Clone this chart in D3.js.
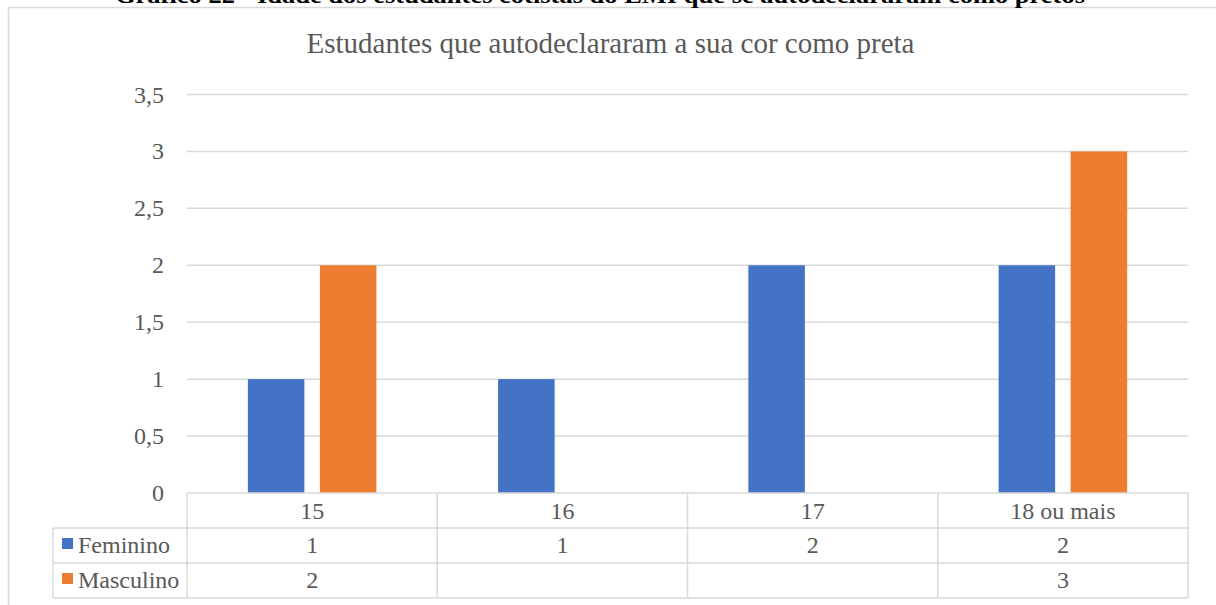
<!DOCTYPE html>
<html><head><meta charset="utf-8">
<script src="https://cdn.jsdelivr.net/npm/d3@7"></script>
<style>
html,body{margin:0;padding:0;background:#fff;}
svg{display:block;}
</style></head>
<body>
<svg id="chart" width="1216" height="605"></svg>
<script>
const caption = "Gráfico 22 - Idade dos estudantes cotistas do EMI que se autodeclararam como pretos";
const title = "Estudantes que autodeclararam a sua cor como preta";
const categories = ["15", "16", "17", "18 ou mais"];
const seriesNames = ["Feminino", "Masculino"];
const feminino = [1, 1, 2, 2];
const masculino = [2, null, null, 3];
const yTicks = [0, 0.5, 1, 1.5, 2, 2.5, 3, 3.5];
const yTickLabels = ["0", "0,5", "1", "1,5", "2", "2,5", "3", "3,5"];
const colors = ["#4472C4", "#ED7D31"];

const series = [feminino, masculino];
const FONT = "'Liberation Serif'";
const svg = d3.select("#chart");
const grid = "#D9D9D9", txt = "#595959";
function T(sel) { return sel.style("font-family", FONT); }

// frame
svg.append("line").attr("x1", 8).attr("x2", 1216).attr("y1", 7.5).attr("y2", 7.5).attr("stroke", grid).attr("stroke-width", 1.5);
svg.append("line").attr("x1", 8.5).attr("x2", 8.5).attr("y1", 7).attr("y2", 605).attr("stroke", grid).attr("stroke-width", 1.5);

// caption (clipped at top, as in the reference)
T(svg.append("text")).attr("x", 115).attr("y", 2.5).attr("font-size", 23).attr("font-weight", "bold")
  .attr("fill", "#000").attr("textLength", 970).attr("lengthAdjust", "spacingAndGlyphs").text(caption);

// title
T(svg.append("text")).attr("x", 610.5).attr("y", 53).attr("text-anchor", "middle").attr("font-size", 29)
  .attr("fill", txt).text(title);

const x0 = d3.scaleBand().domain(categories).range([187, 1188]).padding(0);
const x1 = d3.scaleBand().domain(seriesNames).range([0, x0.bandwidth()]).paddingInner(0.215).paddingOuter(0.845);
const y = d3.scaleLinear().domain([0, 3.5]).range([493, 94.5]);

// gridlines
svg.append("g").selectAll("line").data(yTicks.filter(d => d > 0)).join("line")
  .attr("x1", 187).attr("x2", 1188).attr("y1", d => y(d)).attr("y2", d => y(d))
  .attr("stroke", grid).attr("stroke-width", 1.5);

// y tick labels
T(svg.append("g").selectAll("text").data(yTicks).join("text"))
  .attr("x", 164).attr("y", d => y(d) + 8).attr("text-anchor", "end").attr("font-size", 24).attr("fill", txt)
  .text((d, i) => yTickLabels[i]);

// bars
seriesNames.forEach((s, si) => {
  svg.append("g").selectAll("rect").data(categories.map((c, i) => ({c, v: series[si][i]})).filter(d => d.v != null)).join("rect")
    .attr("x", d => x0(d.c) + x1(s)).attr("width", x1.bandwidth())
    .attr("y", d => y(d.v)).attr("height", d => y(0) - y(d.v)).attr("fill", colors[si]);
});

// data table
const rowTop = [493, 528, 563, 598];
const tbl = svg.append("g").attr("stroke", grid).attr("stroke-width", 1.5);
tbl.append("line").attr("x1", 187).attr("x2", 1188).attr("y1", rowTop[0]).attr("y2", rowTop[0]);
[1, 2, 3].forEach(r => tbl.append("line").attr("x1", 53).attr("x2", 1188).attr("y1", rowTop[r]).attr("y2", rowTop[r]));
tbl.append("line").attr("x1", 53).attr("x2", 53).attr("y1", rowTop[1]).attr("y2", rowTop[3]);
const colEdges = categories.map(c => x0(c)).concat([x0.range()[1]]);
colEdges.forEach(xv => tbl.append("line").attr("x1", xv).attr("x2", xv).attr("y1", rowTop[0]).attr("y2", rowTop[3]));

// header labels
T(svg.append("g").selectAll("text").data(categories).join("text"))
  .attr("x", d => x0(d) + x0.bandwidth() / 2).attr("y", 519).attr("text-anchor", "middle")
  .attr("font-size", 24).attr("fill", txt).text(d => d);

// series rows
seriesNames.forEach((s, si) => {
  const base = rowTop[si + 1];
  svg.append("rect").attr("x", 62).attr("y", base + 10).attr("width", 11).attr("height", 11).attr("fill", colors[si]);
  T(svg.append("text")).attr("x", 78).attr("y", base + 25).attr("font-size", 24).attr("fill", txt).text(s);
  T(svg.append("g").selectAll("text").data(categories.map((c, i) => ({c, v: series[si][i]})).filter(d => d.v != null)).join("text"))
    .attr("x", d => x0(d.c) + x0.bandwidth() / 2).attr("y", base + 25).attr("text-anchor", "middle")
    .attr("font-size", 24).attr("fill", txt).text(d => d.v);
});
</script>
</body></html>
